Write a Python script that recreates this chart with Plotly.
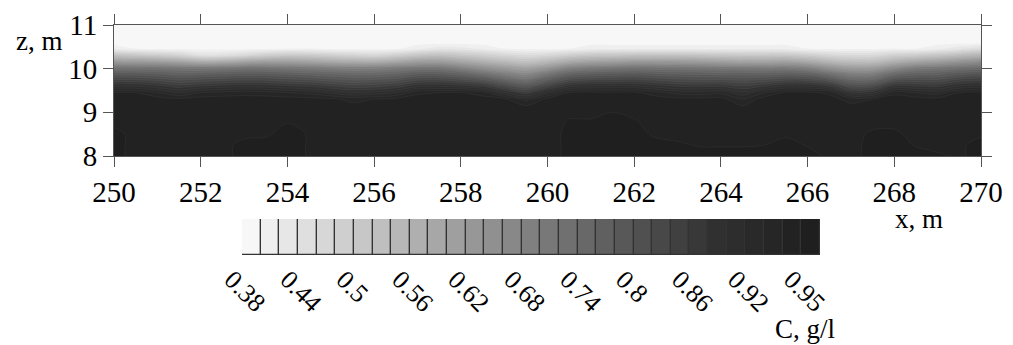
import plotly.graph_objects as go

# ---------------- data ----------------
X_COORDS = [250.0, 250.5, 251.0, 251.5, 252.0, 252.5, 253.0, 253.5, 254.0, 254.5,
            255.0, 255.5, 256.0, 256.5, 257.0, 257.5, 258.0, 258.5, 259.0, 259.5,
            260.0, 260.5, 261.0, 261.5, 262.0, 262.5, 263.0, 263.5, 264.0, 264.5,
            265.0, 265.5, 266.0, 266.5, 267.0, 267.5, 268.0, 268.5, 269.0, 269.5, 270.0]
Z_COORDS = [8.0, 8.25, 8.5, 8.8, 9.1, 9.3, 9.45, 9.6, 9.75, 9.9, 10.03, 10.16, 10.31, 10.46, 10.6, 11.0]

# concentration profile C(z) for every x column (bottom -> top, same order as Z_COORDS)
C_COLUMNS = [
    [0.99, 0.99, 0.99, 0.97, 0.97, 0.97, 0.96, 0.90, 0.84, 0.78, 0.72, 0.629, 0.521, 0.414, 0.39, 0.385],
    [0.97, 0.97, 0.97, 0.97, 0.97, 0.97, 0.96, 0.90, 0.84, 0.78, 0.72, 0.625, 0.513, 0.40, 0.39, 0.385],
    [0.97, 0.97, 0.97, 0.97, 0.97, 0.97, 0.941, 0.886, 0.83, 0.774, 0.719, 0.619, 0.497, 0.395, 0.39, 0.385],
    [0.97, 0.97, 0.97, 0.97, 0.97, 0.965, 0.921, 0.869, 0.816, 0.763, 0.711, 0.603, 0.481, 0.393, 0.39, 0.385],
    [0.97, 0.97, 0.97, 0.97, 0.97, 0.97, 0.941, 0.882, 0.824, 0.766, 0.708, 0.582, 0.445, 0.392, 0.39, 0.385],
    [0.97, 0.97, 0.97, 0.97, 0.97, 0.97, 0.948, 0.889, 0.83, 0.771, 0.712, 0.588, 0.447, 0.392, 0.39, 0.385],
    [0.99, 0.99, 0.972, 0.97, 0.97, 0.97, 0.952, 0.894, 0.836, 0.778, 0.719, 0.606, 0.466, 0.393, 0.39, 0.385],
    [0.99, 0.99, 0.976, 0.97, 0.97, 0.97, 0.949, 0.891, 0.834, 0.776, 0.719, 0.617, 0.492, 0.394, 0.39, 0.385],
    [0.99, 0.99, 0.99, 0.978, 0.97, 0.97, 0.941, 0.884, 0.826, 0.769, 0.711, 0.614, 0.507, 0.40, 0.39, 0.385],
    [0.978, 0.978, 0.978, 0.97, 0.97, 0.968, 0.933, 0.876, 0.819, 0.761, 0.704, 0.605, 0.502, 0.40, 0.39, 0.385],
    [0.97, 0.97, 0.97, 0.97, 0.97, 0.965, 0.916, 0.861, 0.806, 0.751, 0.693, 0.591, 0.489, 0.395, 0.39, 0.385],
    [0.97, 0.97, 0.97, 0.97, 0.97, 0.953, 0.901, 0.849, 0.797, 0.745, 0.686, 0.581, 0.477, 0.394, 0.39, 0.385],
    [0.97, 0.97, 0.97, 0.97, 0.97, 0.96, 0.907, 0.853, 0.80, 0.746, 0.686, 0.579, 0.471, 0.393, 0.39, 0.385],
    [0.97, 0.97, 0.97, 0.97, 0.97, 0.966, 0.92, 0.865, 0.81, 0.755, 0.70, 0.595, 0.491, 0.395, 0.39, 0.385],
    [0.97, 0.97, 0.97, 0.97, 0.97, 0.97, 0.956, 0.895, 0.834, 0.773, 0.712, 0.618, 0.516, 0.414, 0.39, 0.385],
    [0.97, 0.97, 0.97, 0.97, 0.97, 0.97, 0.96, 0.898, 0.836, 0.774, 0.712, 0.623, 0.528, 0.432, 0.39, 0.385],
    [0.97, 0.97, 0.97, 0.97, 0.97, 0.97, 0.96, 0.892, 0.823, 0.755, 0.683, 0.598, 0.513, 0.428, 0.39, 0.385],
    [0.97, 0.97, 0.97, 0.97, 0.97, 0.97, 0.95, 0.875, 0.80, 0.725, 0.648, 0.571, 0.493, 0.416, 0.39, 0.385],
    [0.97, 0.97, 0.97, 0.97, 0.97, 0.965, 0.903, 0.832, 0.761, 0.69, 0.618, 0.545, 0.473, 0.40, 0.39, 0.385],
    [0.97, 0.97, 0.97, 0.97, 0.97, 0.933, 0.866, 0.799, 0.731, 0.664, 0.595, 0.527, 0.459, 0.395, 0.39, 0.385],
    [0.97, 0.97, 0.97, 0.97, 0.97, 0.966, 0.914, 0.846, 0.778, 0.709, 0.63, 0.55, 0.47, 0.395, 0.39, 0.385],
    [0.986, 0.986, 0.986, 0.982, 0.97, 0.97, 0.96, 0.892, 0.823, 0.755, 0.681, 0.588, 0.494, 0.40, 0.39, 0.385],
    [0.99, 0.99, 0.99, 0.982, 0.97, 0.97, 0.965, 0.903, 0.837, 0.771, 0.704, 0.609, 0.511, 0.413, 0.39, 0.385],
    [0.99, 0.99, 0.99, 0.99, 0.975, 0.97, 0.965, 0.905, 0.841, 0.777, 0.713, 0.618, 0.516, 0.414, 0.39, 0.385],
    [0.99, 0.99, 0.99, 0.982, 0.97, 0.97, 0.965, 0.906, 0.844, 0.783, 0.721, 0.629, 0.521, 0.414, 0.39, 0.385],
    [0.99, 0.99, 0.975, 0.97, 0.97, 0.97, 0.949, 0.891, 0.834, 0.776, 0.719, 0.629, 0.521, 0.414, 0.39, 0.385],
    [0.99, 0.985, 0.97, 0.97, 0.97, 0.968, 0.932, 0.878, 0.825, 0.771, 0.718, 0.629, 0.521, 0.414, 0.39, 0.385],
    [0.99, 0.978, 0.97, 0.97, 0.97, 0.966, 0.928, 0.875, 0.821, 0.768, 0.714, 0.623, 0.519, 0.414, 0.39, 0.385],
    [0.99, 0.978, 0.97, 0.97, 0.97, 0.968, 0.934, 0.877, 0.821, 0.764, 0.708, 0.613, 0.513, 0.413, 0.39, 0.385],
    [0.99, 0.978, 0.97, 0.97, 0.966, 0.942, 0.905, 0.862, 0.815, 0.762, 0.706, 0.604, 0.509, 0.413, 0.39, 0.385],
    [0.99, 0.98, 0.97, 0.97, 0.97, 0.97, 0.94, 0.88, 0.82, 0.76, 0.70, 0.604, 0.509, 0.413, 0.39, 0.385],
    [0.99, 0.99, 0.975, 0.97, 0.97, 0.97, 0.965, 0.899, 0.834, 0.769, 0.704, 0.609, 0.511, 0.413, 0.39, 0.385],
    [0.99, 0.978, 0.97, 0.97, 0.97, 0.97, 0.965, 0.90, 0.83, 0.76, 0.687, 0.591, 0.496, 0.40, 0.39, 0.385],
    [0.975, 0.97, 0.97, 0.97, 0.97, 0.97, 0.955, 0.878, 0.802, 0.725, 0.643, 0.558, 0.474, 0.395, 0.39, 0.385],
    [0.97, 0.97, 0.97, 0.97, 0.97, 0.951, 0.886, 0.821, 0.756, 0.69, 0.614, 0.537, 0.461, 0.395, 0.39, 0.385],
    [0.99, 0.99, 0.985, 0.97, 0.97, 0.96, 0.893, 0.826, 0.758, 0.69, 0.615, 0.54, 0.465, 0.395, 0.39, 0.385],
    [0.99, 0.99, 0.986, 0.97, 0.97, 0.97, 0.955, 0.883, 0.811, 0.739, 0.66, 0.573, 0.487, 0.40, 0.39, 0.385],
    [0.99, 0.978, 0.97, 0.97, 0.97, 0.97, 0.94, 0.88, 0.82, 0.76, 0.70, 0.60, 0.50, 0.40, 0.39, 0.385],
    [0.985, 0.97, 0.97, 0.97, 0.97, 0.967, 0.931, 0.876, 0.821, 0.766, 0.711, 0.618, 0.516, 0.414, 0.39, 0.385],
    [0.975, 0.975, 0.97, 0.97, 0.97, 0.97, 0.96, 0.902, 0.844, 0.785, 0.727, 0.644, 0.54, 0.435, 0.39, 0.385],
    [0.99, 0.99, 0.976, 0.97, 0.97, 0.97, 0.965, 0.91, 0.853, 0.796, 0.738, 0.665, 0.56, 0.456, 0.39, 0.385],
]

# contour levels (band edges) and colour-bar labels
LEVEL_START = 0.38
LEVEL_END = 1.00
LEVEL_STEP = 0.02
CBAR_TICK_TEXT = ["0.38", "0.44", "0.5", "0.56", "0.62", "0.68", "0.74", "0.8", "0.86", "0.92", "0.95"]
CBAR_TICK_BAND = [0, 3, 6, 9, 12, 15, 18, 21, 24, 27, 30]

X_TICKS = [250, 252, 254, 256, 258, 260, 262, 264, 266, 268, 270]
Z_TICKS = [8, 9, 10, 11]

# ---------------- styling helpers ----------------
N_BANDS = int(round((LEVEL_END - LEVEL_START) / LEVEL_STEP))  # 31


def band_gray(k):
    if k <= 25:
        g = 247 - 7.96 * k
    else:
        g = 48 - 3.4 * (k - 25)
    g = int(round(g))
    return f"rgb({g},{g},{g})"


band_colors = [band_gray(k) for k in range(N_BANDS)]

# step colorscale matching plotly's contour fill mapping (band k centred at (k+1)/(N+1))
nc = N_BANDS + 1
cscale = [[0.0, band_colors[0]]]
for k, col in enumerate(band_colors):
    lo = (k + 0.5) / nc
    hi = min((k + 1.5) / nc, 1.0)
    cscale.append([lo, col])
    cscale.append([hi, col])
cscale.append([1.0, band_colors[-1]])

z_matrix = [list(row) for row in zip(*C_COLUMNS)]

SERIF = "Liberation Serif"
AXC = "#555555"

fig = go.Figure()

fig.add_trace(go.Contour(
    x=X_COORDS, y=Z_COORDS, z=z_matrix,
    contours=dict(start=LEVEL_START, end=LEVEL_END, size=LEVEL_STEP, coloring="fill"),
    colorscale=cscale,
    line=dict(color="rgba(255,255,255,0.08)", width=0.6, smoothing=1),
    showscale=False,
    hoverinfo="skip",
    xaxis="x", yaxis="y",
))

fig.add_trace(go.Bar(
    x=[k + 0.5 for k in range(N_BANDS)],
    y=[1] * N_BANDS,
    width=[1] * N_BANDS,
    marker=dict(color=band_colors, line=dict(color="#333333", width=1.2)),
    xaxis="x2", yaxis="y2",
    hoverinfo="skip",
    showlegend=False,
))

W, H = 1013, 345
ML, MR, MT, MB = 114, 32, 25, 0
plot_h = H - MT - MB
plot_w = W - ML - MR


def ypaper(py):
    return (H - MB - py) / plot_h


def xpaper(px):
    return (px - ML) / plot_w


fig.update_layout(
    template="none",
    width=W, height=H,
    margin=dict(l=ML, r=MR, t=MT, b=MB, autoexpand=False),
    paper_bgcolor="white", plot_bgcolor="white",
    showlegend=False,
    bargap=0,
    font=dict(family=SERIF, color="black", size=28),
    xaxis=dict(
        domain=[0, 1], range=[250, 270], tickvals=X_TICKS, anchor="y",
        ticks="outside", ticklen=10, tickcolor=AXC, tickwidth=1,
        showline=True, linecolor=AXC, linewidth=1, mirror="ticks",
        showgrid=False, zeroline=False, automargin=False,
        tickfont=dict(family=SERIF, size=29, color="black"),
    ),
    yaxis=dict(
        domain=[ypaper(156), 1], range=[8, 11], tickvals=Z_TICKS, anchor="x",
        ticks="outside", ticklen=10, tickcolor=AXC, tickwidth=1,
        showline=True, linecolor=AXC, linewidth=1, mirror="ticks",
        showgrid=False, zeroline=False, automargin=False,
        tickfont=dict(family=SERIF, size=29, color="black"),
    ),
    xaxis2=dict(
        domain=[xpaper(242), xpaper(820)], range=[0, N_BANDS], anchor="y2",
        tickvals=CBAR_TICK_BAND, ticktext=CBAR_TICK_TEXT, tickangle=45,
        ticks="", showline=False, showgrid=False, zeroline=False,
        automargin=False, ticklabelshift=-10, ticklabelstandoff=3,
        tickfont=dict(family=SERIF, size=26, color="black"),
    ),
    yaxis2=dict(
        domain=[ypaper(255), ypaper(219)], range=[0, 1], anchor="x2",
        visible=False, automargin=False,
    ),
    annotations=[
        dict(text="z, m", xref="paper", yref="paper", x=xpaper(14), y=ypaper(41),
             xanchor="left", yanchor="middle", showarrow=False,
             font=dict(family=SERIF, size=27, color="black")),
        dict(text="x, m", xref="paper", yref="paper", x=xpaper(893), y=ypaper(219),
             xanchor="left", yanchor="middle", showarrow=False,
             font=dict(family=SERIF, size=27, color="black")),
        dict(text="C, g/l", xref="paper", yref="paper", x=xpaper(773), y=ypaper(329),
             xanchor="left", yanchor="middle", showarrow=False,
             font=dict(family=SERIF, size=27, color="black")),
    ],
)

fig.write_html("out.html")
